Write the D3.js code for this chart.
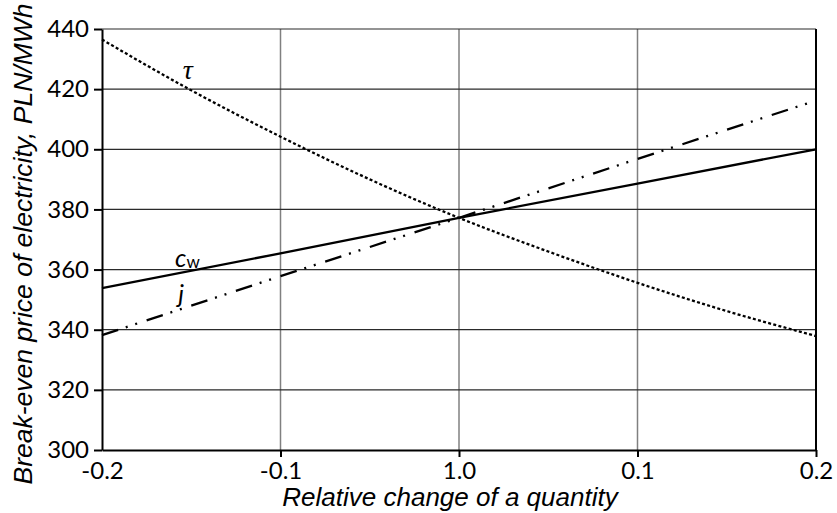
<!DOCTYPE html>
<html>
<head>
<meta charset="utf-8">
<script src="https://cdn.jsdelivr.net/npm/d3@7"></script>
<style>
  html, body { margin: 0; padding: 0; background: #fff; }
  svg { display: block; }
</style>
</head>
<body>
<svg id="chart" width="837" height="513"></svg>
<script>
// ---- data ----
const xTicks = [-0.2, -0.1, 0, 0.1, 0.2];
const xTickLabels = ["-0.2", "-0.1", "1.0", "0.1", "0.2"];
const yTicks = [300, 320, 340, 360, 380, 400, 420, 440];

const cwX = [-0.2, -0.1, 0, 0.1, 0.2];
const cwY = [353.8, 365.4, 377.2, 388.6, 400.0];

const jX = [-0.2, -0.1, 0, 0.1, 0.2];
const jY = [338.2, 357.8, 377.2, 396.8, 416.2];

const tauX = [-0.2, -0.15, -0.1, -0.05, 0, 0.05, 0.1, 0.15, 0.2];
const tauY = [436.5, 419.6, 404.2, 390.0, 377.2, 366.0, 355.6, 346.2, 337.9];

const xTitle = "Relative change of a quantity";
const yTitle = "Break-even price of electricity, PLN/MWh";

// ---- layout ----
const svg = d3.select("#chart");
const L = 102, R = 816, T = 29, B = 450;
const x = d3.scaleLinear().domain([-0.2, 0.2]).range([L, R]);
const y = d3.scaleLinear().domain([300, 440]).range([B, T]);

// gridlines
svg.append("g").selectAll("line").data(xTicks.slice(1, -1)).join("line")
  .attr("x1", d => x(d)).attr("x2", d => x(d))
  .attr("y1", T).attr("y2", B)
  .attr("stroke", "#808080").attr("stroke-width", 1.5);
svg.append("g").selectAll("line").data(yTicks.slice(1)).join("line")
  .attr("x1", L).attr("x2", R)
  .attr("y1", d => y(d)).attr("y2", d => y(d))
  .attr("stroke", "#2a2a2a").attr("stroke-width", 1.2);

// right border
svg.append("line").attr("x1", R).attr("x2", R).attr("y1", T).attr("y2", B)
  .attr("stroke", "#000").attr("stroke-width", 2);

// axes
const tickFont = "Lato, 'Open Sans', sans-serif";
const yAxis = svg.append("g").attr("transform", `translate(${L},0)`)
  .call(d3.axisLeft(y).tickValues(yTicks).tickSize(8).tickPadding(5).tickSizeOuter(0));
const xAxis = svg.append("g").attr("transform", `translate(0,${B})`)
  .call(d3.axisBottom(x).tickValues(xTicks).tickFormat((d, i) => xTickLabels[i]).tickSize(7).tickPadding(5).tickSizeOuter(0));
[yAxis, xAxis].forEach(a => {
  a.select(".domain").attr("stroke", "#000").attr("stroke-width", 2);
  a.selectAll(".tick line").attr("stroke", "#000").attr("stroke-width", 2);
  a.selectAll(".tick text").attr("fill", "#000")
    .style("font-family", tickFont).style("font-size", "24px");
});
xAxis.selectAll(".tick line").filter((d, i) => i === 0).remove();

// lines
const line = d3.line().x(d => x(d[0])).y(d => y(d[1]));
const curve = d3.line().x(d => x(d[0])).y(d => y(d[1])).curve(d3.curveMonotoneX);

svg.append("path").datum(d3.zip(tauX, tauY)).attr("d", curve)
  .attr("fill", "none").attr("stroke", "#000").attr("stroke-width", 2.3)
  .attr("stroke-dasharray", "3,2.3");
svg.append("path").datum(d3.zip(jX, jY)).attr("d", line)
  .attr("fill", "none").attr("stroke", "#000").attr("stroke-width", 2.3)
  .attr("stroke-dasharray", "17,8,2,8,2,10");
svg.append("path").datum(d3.zip(cwX, cwY)).attr("d", line)
  .attr("fill", "none").attr("stroke", "#000").attr("stroke-width", 2.3);

// series labels
svg.append("text").attr("x", x(-0.152)).attr("y", 79).attr("text-anchor", "middle")
  .style("font-family", "'Liberation Serif', serif").style("font-style", "italic").style("font-size", "28px")
  .text("τ");
const cw = svg.append("text").attr("x", 175).attr("y", 267)
  .style("font-family", tickFont).style("font-size", "25px");
cw.append("tspan").style("font-style", "italic").text("c");
cw.append("tspan").attr("dy", 1).style("font-size", "17px").text("w");
svg.append("text").attr("x", 181).attr("y", 303).attr("text-anchor", "middle")
  .style("font-family", tickFont).style("font-style", "italic").style("font-size", "25px")
  .text("j");

// axis titles
svg.append("text").attr("x", 450).attr("y", 506).attr("text-anchor", "middle")
  .style("font-family", "'Liberation Sans', Arial, sans-serif").style("font-style", "italic").style("font-size", "26px")
  .text(xTitle);
svg.append("text").attr("transform", "translate(32,244) rotate(-90)").attr("text-anchor", "middle")
  .style("font-family", "'Liberation Sans', Arial, sans-serif").style("font-style", "italic").style("font-size", "26.5px")
  .text(yTitle);
</script>
</body>
</html>
